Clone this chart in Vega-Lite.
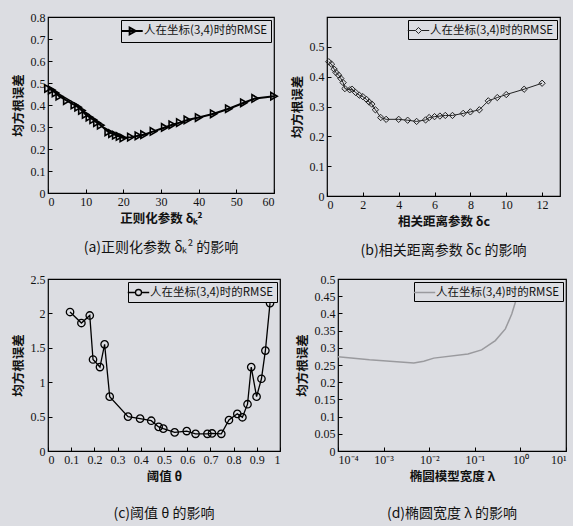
{
  "$schema": "https://vega.github.io/schema/vega-lite/v6.json",
  "background": "#dcdde2",
  "padding": {"left": 11, "top": 10, "right": 6, "bottom": 4},
  "datasets": {
    "a": [
      {"x": 0, "y": 0.475, "s": "人在坐标(3,4)时的RMSE"},
      {"x": 1, "y": 0.468, "s": "人在坐标(3,4)时的RMSE"},
      {"x": 2, "y": 0.455, "s": "人在坐标(3,4)时的RMSE"},
      {"x": 3, "y": 0.44, "s": "人在坐标(3,4)时的RMSE"},
      {"x": 5, "y": 0.42, "s": "人在坐标(3,4)时的RMSE"},
      {"x": 7, "y": 0.4, "s": "人在坐标(3,4)时的RMSE"},
      {"x": 8, "y": 0.39, "s": "人在坐标(3,4)时的RMSE"},
      {"x": 9, "y": 0.375, "s": "人在坐标(3,4)时的RMSE"},
      {"x": 10, "y": 0.357, "s": "人在坐标(3,4)时的RMSE"},
      {"x": 11, "y": 0.345, "s": "人在坐标(3,4)时的RMSE"},
      {"x": 12, "y": 0.333, "s": "人在坐标(3,4)时的RMSE"},
      {"x": 13, "y": 0.32, "s": "人在坐标(3,4)时的RMSE"},
      {"x": 14, "y": 0.308, "s": "人在坐标(3,4)时的RMSE"},
      {"x": 16, "y": 0.278, "s": "人在坐标(3,4)时的RMSE"},
      {"x": 17, "y": 0.27, "s": "人在坐标(3,4)时的RMSE"},
      {"x": 18, "y": 0.263, "s": "人在坐标(3,4)时的RMSE"},
      {"x": 19, "y": 0.257, "s": "人在坐标(3,4)时的RMSE"},
      {"x": 20, "y": 0.25, "s": "人在坐标(3,4)时的RMSE"},
      {"x": 22, "y": 0.254, "s": "人在坐标(3,4)时的RMSE"},
      {"x": 24, "y": 0.26, "s": "人在坐标(3,4)时的RMSE"},
      {"x": 25.5, "y": 0.265, "s": "人在坐标(3,4)时的RMSE"},
      {"x": 28, "y": 0.28, "s": "人在坐标(3,4)时的RMSE"},
      {"x": 31, "y": 0.298, "s": "人在坐标(3,4)时的RMSE"},
      {"x": 33, "y": 0.31, "s": "人在坐标(3,4)时的RMSE"},
      {"x": 35, "y": 0.32, "s": "人在坐标(3,4)时的RMSE"},
      {"x": 37, "y": 0.332, "s": "人在坐标(3,4)时的RMSE"},
      {"x": 40, "y": 0.343, "s": "人在坐标(3,4)时的RMSE"},
      {"x": 44, "y": 0.36, "s": "人在坐标(3,4)时的RMSE"},
      {"x": 48, "y": 0.383, "s": "人在坐标(3,4)时的RMSE"},
      {"x": 52, "y": 0.41, "s": "人在坐标(3,4)时的RMSE"},
      {"x": 55, "y": 0.43, "s": "人在坐标(3,4)时的RMSE"},
      {"x": 60, "y": 0.44, "s": "人在坐标(3,4)时的RMSE"}
    ],
    "b": [
      {"x": 0.1, "y": 0.45, "s": "人在坐标(3,4)时的RMSE"},
      {"x": 0.25, "y": 0.442, "s": "人在坐标(3,4)时的RMSE"},
      {"x": 0.4, "y": 0.425, "s": "人在坐标(3,4)时的RMSE"},
      {"x": 0.5, "y": 0.414, "s": "人在坐标(3,4)时的RMSE"},
      {"x": 0.65, "y": 0.405, "s": "人在坐标(3,4)时的RMSE"},
      {"x": 0.77, "y": 0.394, "s": "人在坐标(3,4)时的RMSE"},
      {"x": 0.9, "y": 0.38, "s": "人在坐标(3,4)时的RMSE"},
      {"x": 1.0, "y": 0.36, "s": "人在坐标(3,4)时的RMSE"},
      {"x": 1.27, "y": 0.356, "s": "人在坐标(3,4)时的RMSE"},
      {"x": 1.4, "y": 0.358, "s": "人在坐标(3,4)时的RMSE"},
      {"x": 1.6, "y": 0.347, "s": "人在坐标(3,4)时的RMSE"},
      {"x": 1.8, "y": 0.338, "s": "人在坐标(3,4)时的RMSE"},
      {"x": 2.0, "y": 0.333, "s": "人在坐标(3,4)时的RMSE"},
      {"x": 2.2, "y": 0.324, "s": "人在坐标(3,4)时的RMSE"},
      {"x": 2.35, "y": 0.315, "s": "人在坐标(3,4)时的RMSE"},
      {"x": 2.5, "y": 0.308, "s": "人在坐标(3,4)时的RMSE"},
      {"x": 2.7, "y": 0.289, "s": "人在坐标(3,4)时的RMSE"},
      {"x": 3.0, "y": 0.263, "s": "人在坐标(3,4)时的RMSE"},
      {"x": 3.3, "y": 0.257, "s": "人在坐标(3,4)时的RMSE"},
      {"x": 4.0, "y": 0.257, "s": "人在坐标(3,4)时的RMSE"},
      {"x": 4.5, "y": 0.254, "s": "人在坐标(3,4)时的RMSE"},
      {"x": 5.0, "y": 0.25, "s": "人在坐标(3,4)时的RMSE"},
      {"x": 5.5, "y": 0.255, "s": "人在坐标(3,4)时的RMSE"},
      {"x": 5.7, "y": 0.263, "s": "人在坐标(3,4)时的RMSE"},
      {"x": 6.0, "y": 0.266, "s": "人在坐标(3,4)时的RMSE"},
      {"x": 6.3, "y": 0.268, "s": "人在坐标(3,4)时的RMSE"},
      {"x": 6.6, "y": 0.27, "s": "人在坐标(3,4)时的RMSE"},
      {"x": 7.0, "y": 0.27, "s": "人在坐标(3,4)时的RMSE"},
      {"x": 7.6, "y": 0.277, "s": "人在坐标(3,4)时的RMSE"},
      {"x": 8.0, "y": 0.282, "s": "人在坐标(3,4)时的RMSE"},
      {"x": 8.5, "y": 0.289, "s": "人在坐标(3,4)时的RMSE"},
      {"x": 9.0, "y": 0.319, "s": "人在坐标(3,4)时的RMSE"},
      {"x": 9.5, "y": 0.33, "s": "人在坐标(3,4)时的RMSE"},
      {"x": 10.0, "y": 0.34, "s": "人在坐标(3,4)时的RMSE"},
      {"x": 11.0, "y": 0.358, "s": "人在坐标(3,4)时的RMSE"},
      {"x": 12.0, "y": 0.378, "s": "人在坐标(3,4)时的RMSE"}
    ],
    "c": [
      {"x": 0.095, "y": 2.02, "s": "人在坐标(3,4)时的RMSE"},
      {"x": 0.144, "y": 1.86, "s": "人在坐标(3,4)时的RMSE"},
      {"x": 0.18, "y": 1.97, "s": "人在坐标(3,4)时的RMSE"},
      {"x": 0.194, "y": 1.33, "s": "人在坐标(3,4)时的RMSE"},
      {"x": 0.224, "y": 1.22, "s": "人在坐标(3,4)时的RMSE"},
      {"x": 0.244, "y": 1.55, "s": "人在坐标(3,4)时的RMSE"},
      {"x": 0.266, "y": 0.79, "s": "人在坐标(3,4)时的RMSE"},
      {"x": 0.345, "y": 0.5, "s": "人在坐标(3,4)时的RMSE"},
      {"x": 0.397, "y": 0.47, "s": "人在坐标(3,4)时的RMSE"},
      {"x": 0.445, "y": 0.44, "s": "人在坐标(3,4)时的RMSE"},
      {"x": 0.477, "y": 0.35, "s": "人在坐标(3,4)时的RMSE"},
      {"x": 0.497, "y": 0.325, "s": "人在坐标(3,4)时的RMSE"},
      {"x": 0.546, "y": 0.27, "s": "人在坐标(3,4)时的RMSE"},
      {"x": 0.598, "y": 0.29, "s": "人在坐标(3,4)时的RMSE"},
      {"x": 0.636, "y": 0.25, "s": "人在坐标(3,4)时的RMSE"},
      {"x": 0.687, "y": 0.25, "s": "人在坐标(3,4)时的RMSE"},
      {"x": 0.707, "y": 0.255, "s": "人在坐标(3,4)时的RMSE"},
      {"x": 0.747, "y": 0.25, "s": "人在坐标(3,4)时的RMSE"},
      {"x": 0.78, "y": 0.45, "s": "人在坐标(3,4)时的RMSE"},
      {"x": 0.816, "y": 0.54, "s": "人在坐标(3,4)时的RMSE"},
      {"x": 0.838, "y": 0.49, "s": "人在坐标(3,4)时的RMSE"},
      {"x": 0.86, "y": 0.68, "s": "人在坐标(3,4)时的RMSE"},
      {"x": 0.876, "y": 1.22, "s": "人在坐标(3,4)时的RMSE"},
      {"x": 0.899, "y": 0.79, "s": "人在坐标(3,4)时的RMSE"},
      {"x": 0.92, "y": 1.05, "s": "人在坐标(3,4)时的RMSE"},
      {"x": 0.937, "y": 1.46, "s": "人在坐标(3,4)时的RMSE"},
      {"x": 0.957, "y": 2.15, "s": "人在坐标(3,4)时的RMSE"}
    ],
    "d": [
      {"x": 0.0001, "y": 0.274, "s": "人在坐标(3,4)时的RMSE"},
      {"x": 0.00049, "y": 0.265, "s": "人在坐标(3,4)时的RMSE"},
      {"x": 0.0046, "y": 0.256, "s": "人在坐标(3,4)时的RMSE"},
      {"x": 0.0076, "y": 0.261, "s": "人在坐标(3,4)时的RMSE"},
      {"x": 0.0126, "y": 0.27, "s": "人在坐标(3,4)时的RMSE"},
      {"x": 0.0708, "y": 0.282, "s": "人在坐标(3,4)时的RMSE"},
      {"x": 0.141, "y": 0.294, "s": "人在坐标(3,4)时的RMSE"},
      {"x": 0.282, "y": 0.321, "s": "人在坐标(3,4)时的RMSE"},
      {"x": 0.468, "y": 0.355, "s": "人在坐标(3,4)时的RMSE"},
      {"x": 0.646, "y": 0.398, "s": "人在坐标(3,4)时的RMSE"},
      {"x": 0.794, "y": 0.437, "s": "人在坐标(3,4)时的RMSE"}
    ]
  },
  "vconcat": [
    {
      "hconcat": [
        {
          "data": {"name": "a"},
          "width": 226,
          "height": 176,
          "title": {"text": "(a)正则化参数 δₖ² 的影响", "orient": "bottom", "offset": 16},
          "mark": {"type": "line", "color": "black", "strokeWidth": 2, "point": {"shape": "triangle-right", "filled": false, "stroke": "black", "strokeWidth": 1.6, "size": 55}},
          "encoding": {
            "x": {"field": "x", "type": "quantitative", "scale": {"domain": [0, 60], "nice": false}, "axis": {"values": [0, 10, 20, 30, 40, 50, 60], "title": "正则化参数 δₖ²"}},
            "y": {"field": "y", "type": "quantitative", "scale": {"domain": [0, 0.8], "nice": false}, "axis": {"values": [0, 0.1, 0.2, 0.3, 0.4, 0.5, 0.6, 0.7, 0.8], "format": "~g", "title": "均方根误差"}},
            "color": {"field": "s", "type": "nominal", "scale": {"range": ["black"]}, "legend": {"symbolType": "M-1.6,0H1.6M-0.35,-0.5L0.55,0L-0.35,0.5Z", "symbolStrokeWidth": 2, "symbolSize": 180}}
          }
        },
        {
          "data": {"name": "b"},
          "width": 233,
          "height": 179,
          "title": {"text": "(b)相关距离参数 δc 的影响", "orient": "bottom", "offset": 16},
          "mark": {"type": "line", "color": "#333", "strokeWidth": 1, "point": {"shape": "diamond", "filled": false, "stroke": "#222", "strokeWidth": 1, "size": 40}},
          "encoding": {
            "x": {"field": "x", "type": "quantitative", "scale": {"domain": [0, 13], "nice": false}, "axis": {"values": [0, 2, 4, 6, 8, 10, 12], "title": "相关距离参数 δc"}},
            "y": {"field": "y", "type": "quantitative", "scale": {"domain": [0, 0.6], "nice": false}, "axis": {"values": [0, 0.1, 0.2, 0.3, 0.4, 0.5], "format": "~g", "title": "均方根误差"}},
            "color": {"field": "s", "type": "nominal", "scale": {"range": ["#222"]}, "legend": {"symbolType": "M-1.6,0H-0.45M0.45,0H1.6M-0.45,0L0,-0.45L0.45,0L0,0.45Z", "symbolStrokeWidth": 1, "symbolSize": 180}}
          }
        }
      ],
      "spacing": 8,
      "resolve": {"scale": {"color": "independent"}, "legend": {"color": "independent"}}
    },
    {
      "hconcat": [
        {
          "data": {"name": "c"},
          "width": 232,
          "height": 172,
          "title": {"text": "(c)阈值 θ 的影响", "orient": "bottom", "offset": 24},
          "mark": {"type": "line", "color": "black", "strokeWidth": 1.3, "point": {"shape": "circle", "filled": false, "stroke": "black", "strokeWidth": 1.3, "size": 55}},
          "encoding": {
            "x": {"field": "x", "type": "quantitative", "scale": {"domain": [0, 1], "nice": false}, "axis": {"values": [0, 0.1, 0.2, 0.3, 0.4, 0.5, 0.6, 0.7, 0.8, 0.9, 1], "format": "~g", "title": "阈值 θ"}},
            "y": {"field": "y", "type": "quantitative", "scale": {"domain": [0, 2.5], "nice": false}, "axis": {"values": [0, 0.5, 1, 1.5, 2, 2.5], "format": "~g", "title": "均方根误差"}},
            "color": {"field": "s", "type": "nominal", "scale": {"range": ["black"]}, "legend": {"symbolType": "M-1.6,0H-0.45M0.45,0H1.6M-0.45,0A0.45,0.45 0 1,0 0.45,0A0.45,0.45 0 1,0 -0.45,0", "symbolStrokeWidth": 1.3, "symbolSize": 180}}
          }
        },
        {
          "data": {"name": "d"},
          "width": 228,
          "height": 172,
          "title": {"text": "(d)椭圆宽度 λ 的影响", "orient": "bottom", "offset": 24},
          "mark": {"type": "line", "color": "#9a9a9e", "strokeWidth": 1.5},
          "encoding": {
            "x": {"field": "x", "type": "quantitative", "scale": {"type": "log", "domain": [0.0001, 10], "nice": false}, "axis": {"values": [0.0001, 0.001, 0.01, 0.1, 1, 10], "labelExpr": "datum.value < 0.0005 ? '10⁻⁴' : datum.value < 0.005 ? '10⁻³' : datum.value < 0.05 ? '10⁻²' : datum.value < 0.5 ? '10⁻¹' : datum.value < 5 ? '10⁰' : '10¹'", "title": "椭圆模型宽度 λ"}},
            "y": {"field": "y", "type": "quantitative", "scale": {"domain": [0, 0.5], "nice": false}, "axis": {"values": [0, 0.05, 0.1, 0.15, 0.2, 0.25, 0.3, 0.35, 0.4, 0.45, 0.5], "format": "~g", "title": "均方根误差"}},
            "color": {"field": "s", "type": "nominal", "scale": {"range": ["#9a9a9e"]}, "legend": {"symbolType": "M-1.6,0H1.6", "symbolStrokeWidth": 1.5, "symbolSize": 180}}
          }
        }
      ],
      "spacing": 13,
      "resolve": {"scale": {"color": "independent"}, "legend": {"color": "independent"}}
    }
  ],
  "spacing": 13,
  "resolve": {"scale": {"color": "independent"}, "legend": {"color": "independent"}},
  "config": {
    "view": {"stroke": "black", "strokeWidth": 1.2, "fill": null},
    "axis": {
      "grid": false,
      "domain": false,
      "tickSize": -4,
      "tickColor": "black",
      "labelFont": "Liberation Serif",
      "labelFontSize": 12,
      "labelColor": "#111",
      "labelPadding": 7,
      "titleFont": "Noto Sans CJK SC",
      "titleFontSize": 12.5,
      "titleFontWeight": "bold",
      "titleColor": "#111",
      "titlePadding": 5
    },
    "title": {"font": "Noto Sans CJK SC", "fontSize": 14, "fontWeight": "normal", "color": "#111"},
    "legend": {
      "orient": "top-right",
      "offset": 3,
      "title": null,
      "strokeColor": "black",
      "padding": 3,
      "fillColor": "#dcdde2",
      "labelFont": "Noto Sans CJK SC",
      "labelFontSize": 11.5,
      "labelColor": "#111",
      "symbolFillColor": "transparent"
    }
  }
}
